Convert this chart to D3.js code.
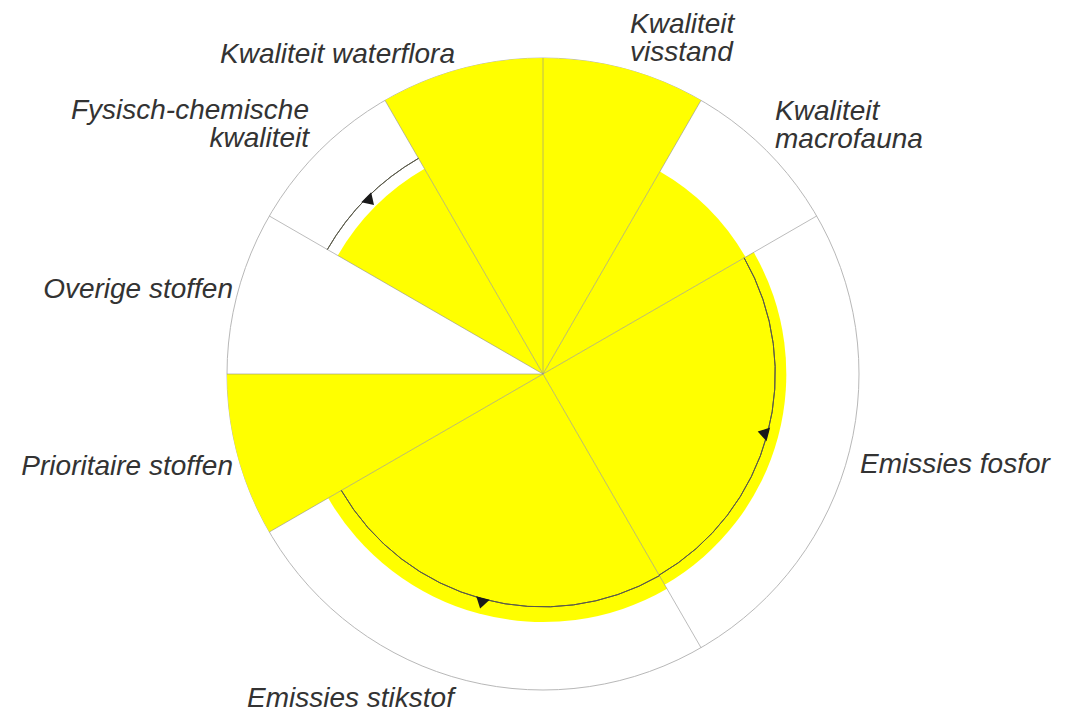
<!DOCTYPE html>
<html>
<head>
<meta charset="utf-8">
<script src="https://cdn.jsdelivr.net/npm/d3@7"></script>
<style>
  html, body { margin: 0; padding: 0; background: #fff; }
  #mainContainer { width: 1066px; height: 714px; }
</style>
</head>
<body>
<div id="mainContainer"></div>
<script>
// sectors, clockwise from 12 o'clock
var categories = ["Kwaliteit visstand", "Kwaliteit macrofauna", "Emissies fosfor", "Emissies stikstof",
                  "Prioritaire stoffen", "Overige stoffen", "Fysisch-chemische kwaliteit", "Kwaliteit waterflora"];
var spans = [30, 30, 90, 90, 30, 30, 30, 30];           // sector width in degrees
var scores = [1.0, 0.74, 0.77, 0.785, 1.0, 0, 0.75, 1.0]; // filled part (0..1)
var refLevels = [null, null, 0.735, 0.737, null, null, 0.788, null]; // dark reference arc
var trends = [0, 0, -1, 1, 0, 0, -1, 0];                  // arrow: 1 outward, -1 inward

// label text lines (layout is kept separately below)
var labelLines = [["Kwaliteit", "visstand"], ["Kwaliteit", "macrofauna"], ["Emissies fosfor"], ["Emissies stikstof"],
                  ["Prioritaire stoffen"], ["Overige stoffen"], ["Fysisch-chemische", "kwaliteit"], ["Kwaliteit waterflora"]];
var labelLayout = [
  { x: 630, y: 33, anchor: "start" },
  { x: 775, y: 120, anchor: "start" },
  { x: 860, y: 473, anchor: "start" },
  { x: 247, y: 707, anchor: "start" },
  { x: 233, y: 475, anchor: "end" },
  { x: 233, y: 298, anchor: "end" },
  { x: 309, y: 119, anchor: "end" },
  { x: 455, y: 63, anchor: "end" }
];

var width = 1066, height = 714,
    cx = 543, cy = 374, outerR = 316;

var svg = d3.select('#mainContainer').append('svg')
    .attr('width', width)
    .attr('height', height);

var g = svg.append('g')
    .attr('transform', 'translate(' + cx + ',' + cy + ')');

var rscale = d3.scaleLinear().domain([0, 1]).range([0, outerR]);
var toRad = function(deg) { return deg * Math.PI / 180; };

// cumulative angles
var data = [];
var acc = 0;
for (var i = 0; i < categories.length; i++) {
    data.push({
        name: categories[i], start: acc, end: acc + spans[i],
        score: scores[i], ref: refLevels[i], trend: trends[i],
        lines: labelLines[i], pos: labelLayout[i]
    });
    acc += spans[i];
}

// outer ring
g.append("circle")
    .attr("r", rscale(1))
    .attr("fill", "none")
    .attr("stroke", "#b8b8b8")
    .attr("stroke-width", 1);

// yellow sectors
var arc = d3.arc()
    .innerRadius(0)
    .outerRadius(function(d) { return rscale(d.score); })
    .startAngle(function(d) { return toRad(d.start); })
    .endAngle(function(d) { return toRad(d.end); });

g.append("g").selectAll("path")
    .data(data.filter(function(d) { return d.score > 0; }))
    .enter()
    .append("path")
    .attr("d", arc)
    .attr("fill", "#ffff00");

// divider spokes
g.append("g").selectAll("line")
    .data(data)
    .enter()
    .append("line")
    .attr("x1", 0).attr("y1", 0)
    .attr("x2", function(d) { return rscale(1) * Math.sin(toRad(d.start)); })
    .attr("y2", function(d) { return -rscale(1) * Math.cos(toRad(d.start)); })
    .attr("stroke", "#8f8f8f")
    .attr("stroke-opacity", 0.6)
    .attr("stroke-width", 1);

// reference arcs
var refs = data.filter(function(d) { return d.ref != null; });
var refArc = d3.arc()
    .innerRadius(function(d) { return rscale(d.ref); })
    .outerRadius(function(d) { return rscale(d.ref); })
    .startAngle(function(d) { return toRad(d.start); })
    .endAngle(function(d) { return toRad(d.end); });

g.append("g").selectAll("path")
    .data(refs)
    .enter()
    .append("path")
    .attr("d", refArc)
    .attr("fill", "none")
    .attr("stroke", "#5a5a4a")
    .attr("stroke-width", 1);

// trend arrows at the sector middle
g.append("g").selectAll("path")
    .data(refs)
    .enter()
    .append("path")
    .attr("d", "M-7,-5L7,-5L0,6Z")
    .attr("fill", "#1a1a1a")
    .attr("transform", function(d) {
        var mid = (d.start + d.end) / 2;
        var r = rscale(d.ref) + d.trend * 4;
        var x = r * Math.sin(toRad(mid)), y = -r * Math.cos(toRad(mid));
        // triangle tip points +y; rotate so it points outward (trend 1) or inward (-1)
        var rot = d.trend > 0 ? mid + 180 : mid;
        return "translate(" + x + "," + y + ") rotate(" + rot + ")";
    });

// labels
var labels = svg.append("g")
    .attr("font-family", "'Liberation Sans', Arial, sans-serif")
    .attr("font-style", "italic")
    .attr("font-size", "28px")
    .attr("fill", "#333");

data.forEach(function(d) {
    var t = labels.append("text")
        .attr("x", d.pos.x)
        .attr("y", d.pos.y)
        .attr("text-anchor", d.pos.anchor);
    d.lines.forEach(function(line, k) {
        t.append("tspan")
            .attr("x", d.pos.x)
            .attr("dy", k === 0 ? 0 : 28)
            .text(line);
    });
});
</script>
</body>
</html>
